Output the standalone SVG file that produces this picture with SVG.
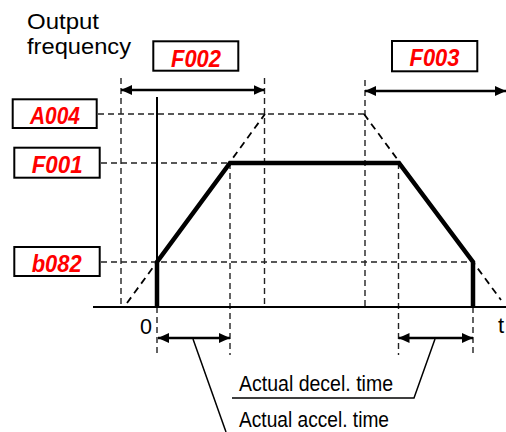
<svg xmlns="http://www.w3.org/2000/svg" width="506" height="432" viewBox="0 0 506 432">
<style>
.lbl{font-family:"Liberation Sans",Arial,sans-serif;font-size:22px;fill:#000}
.code{font-family:"Liberation Sans",Arial,sans-serif;font-size:24px;font-weight:bold;font-style:italic;fill:#ff0000;text-anchor:start}
.box{fill:#fff;stroke:#000;stroke-width:2}
.dash{fill:none;stroke:#222;stroke-width:1.4;stroke-dasharray:6 4}
.dashd{fill:none;stroke:#000;stroke-width:1.8;stroke-dasharray:7 5}
.thin{fill:none;stroke:#000;stroke-width:2}
.thick{fill:none;stroke:#000;stroke-width:4.5;stroke-linejoin:miter}
.arr{fill:none;stroke:#000;stroke-width:2.5;marker-start:url(#ah);marker-end:url(#ah)}
.lead{fill:none;stroke:#000;stroke-width:1.5}
</style>
<defs>
<marker id="ah" markerUnits="userSpaceOnUse" markerWidth="12" markerHeight="10" refX="11" refY="5" orient="auto-start-reverse">
<path d="M0,0 L11,5 L0,10 Z" fill="#000"/>
</marker>
</defs>
<rect width="506" height="432" fill="#fff"/>
<g id="axis-labels">
<text class="lbl" x="27" y="29" textLength="72" lengthAdjust="spacingAndGlyphs">Output</text>
<text class="lbl" x="27" y="54" textLength="104" lengthAdjust="spacingAndGlyphs">frequency</text>
<text class="lbl" x="140" y="334" font-size="20" textLength="12" lengthAdjust="spacingAndGlyphs">0</text>
<text class="lbl" x="498" y="333" font-size="20">t</text>
</g>
<g id="connectors">
<path class="dash" d="M98,114 H364 M101,163 H230 M101,262 H473"/>
<path class="dash" d="M121,78 V307 M264.5,78 V307 M365,80 V307 M230,163 V355 M398.5,163 V355 M157,307 V355 M473,307 V355"/>
<path class="dashd" d="M127,303 L265,114 M364,114 L501,300"/>
<path class="thin" d="M93,307 H506 M157,97 V307"/>
<path class="thick" d="M157,307 V262 L230,163 H399 L473,262 V307"/>
<path class="arr" d="M121,90 H264.5"/>
<path class="arr" d="M365,91 H506"/>
<path class="arr" d="M158,338 H230"/>
<path class="arr" d="M398.5,338 H473"/>
<path class="lead" d="M193,339 L226,432"/>
<path class="lead" d="M435,339 L414,398 H232"/>
</g>
<g id="node-F002">
<rect class="box" x="153.3" y="41.3" width="85" height="29.4"/>
<text class="code" x="171" y="66.5" textLength="50" lengthAdjust="spacingAndGlyphs">F002</text>
</g>
<g id="node-F003">
<rect class="box" x="392" y="41" width="85.3" height="30.3"/>
<text class="code" x="409.5" y="66" textLength="50" lengthAdjust="spacingAndGlyphs">F003</text>
</g>
<g id="node-A004">
<rect class="box" x="12.7" y="99.3" width="84" height="28.7"/>
<text class="code" x="30" y="124" textLength="50" lengthAdjust="spacingAndGlyphs">A004</text>
</g>
<g id="node-F001">
<rect class="box" x="14.3" y="147.7" width="85.4" height="30"/>
<text class="code" x="31.7" y="173.3" textLength="51" lengthAdjust="spacingAndGlyphs">F001</text>
</g>
<g id="node-b082">
<rect class="box" x="14.3" y="247" width="85.4" height="29"/>
<text class="code" x="31.7" y="271.7" textLength="50" lengthAdjust="spacingAndGlyphs">b082</text>
</g>
<g id="captions">
<text class="lbl" x="239" y="391" textLength="154" lengthAdjust="spacingAndGlyphs">Actual decel. time</text>
<text class="lbl" x="239" y="427" textLength="150" lengthAdjust="spacingAndGlyphs">Actual accel. time</text>
</g>
</svg>
